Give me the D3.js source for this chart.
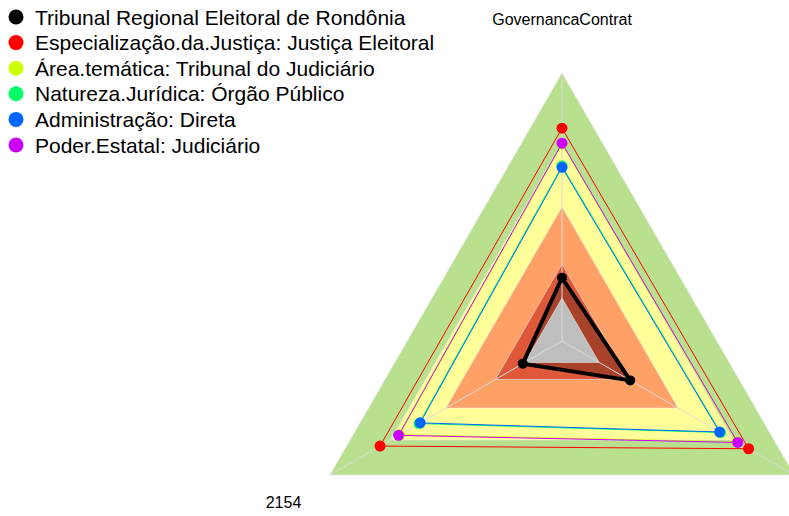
<!DOCTYPE html>
<html>
<head>
<meta charset="utf-8">
<script src="https://cdn.jsdelivr.net/npm/d3@7"></script>
<style>
  html, body { margin: 0; padding: 0; background: #fff; }
  svg { display: block; font-family: "Liberation Sans", Arial, sans-serif; }
</style>
</head>
<body>
<svg id="chart" width="789" height="516"></svg>
<script>
// Indicator axes (from the top, then bottom-left, then bottom-right)
const axes = ["GovernancaContrat", "2154", "2155"];

// Reference bands, as a share of the full scale (outer to inner)
const bandLevels = [1.0, 0.739, 0.5, 0.287, 0.16];
const bandColors = ["#b9e08e", "#ffff99", "#ffa066", "#e0583a", "#bebebe"];

// Series
const seriesNames = [
  "Tribunal Regional Eleitoral de Rondônia",
  "Especialização.da.Justiça: Justiça Eleitoral",
  "Área.temática: Tribunal do Judiciário",
  "Natureza.Jurídica: Órgão Público",
  "Administração: Direta",
  "Poder.Estatal: Judiciário"
];
const seriesColors = ["#000000", "#FF0000", "#CCFF00", "#00FF66", "#0066FF", "#CC00FF"];
const tribunal       = [0.236, 0.169, 0.294];
const especializacao = [0.794, 0.784, 0.804];
const areaTematica   = [0.735, 0.700, 0.752];
const natureza       = [0.653, 0.616, 0.683];
const administracao  = [0.648, 0.611, 0.679];
const poder          = [0.738, 0.704, 0.757];
const seriesValues = [tribunal, especializacao, areaTematica, natureza, administracao, poder];

const svg = d3.select("#chart");
const cx = 562, cy = 341, R = 268;

const r = d3.scaleLinear().domain([0, 1]).range([0, R]);
const angle = d3.scalePoint().domain(axes).range([0, -2 * Math.PI * (axes.length - 1) / axes.length]);
const g = svg.append("g").attr("transform", `translate(${cx},${cy})`);

const radial = d3.lineRadial()
  .angle((d, i) => angle(axes[i]))
  .radius(d => r(d))
  .curve(d3.curveLinearClosed);

const pt = (v, i) => {
  const a = angle(axes[i]);
  return [r(v) * Math.sin(a), -r(v) * Math.cos(a)];
};

// bands, largest first; the first series' area is shaded before the innermost band
bandLevels.forEach((lv, k) => {
  if (k === bandLevels.length - 1) {
    g.append("path")
      .attr("d", radial(tribunal))
      .attr("fill", "#000")
      .attr("fill-opacity", 0.25);
  }
  g.append("path")
    .attr("d", radial(axes.map(() => lv)))
    .attr("fill", bandColors[k])
    .attr("stroke", "#e6e6e6")
    .attr("stroke-width", 0.6);
});

// axis spokes
g.selectAll("line.spoke").data(axes).join("line")
  .attr("class", "spoke")
  .attr("x1", 0).attr("y1", 0)
  .attr("x2", (d, i) => pt(1, i)[0])
  .attr("y2", (d, i) => pt(1, i)[1])
  .attr("stroke", "#d8d8d8")
  .attr("stroke-width", 1);

// axis labels
g.selectAll("text.axis").data(axes).join("text")
  .attr("class", "axis")
  .attr("x", (d, i) => pt(1.2, i)[0])
  .attr("y", (d, i) => pt(1.2, i)[1] + 5.7)
  .attr("text-anchor", "middle")
  .attr("font-size", 16)
  .attr("fill", "#000")
  .text(d => d);

// series lines and points
seriesValues.forEach((vals, s) => {
  const sg = g.append("g");
  sg.append("path")
    .attr("d", radial(vals))
    .attr("fill", "none")
    .attr("stroke", seriesColors[s])
    .attr("stroke-width", s === 0 ? 4 : 1);
  sg.selectAll("circle").data(vals).join("circle")
    .attr("cx", (d, i) => pt(d, i)[0])
    .attr("cy", (d, i) => pt(d, i)[1])
    .attr("r", s === 0 ? 5 : 5.5)
    .attr("fill", seriesColors[s]);
});

// legend
const legend = svg.append("g");
const rowY = d3.scaleLinear().domain([0, 1]).range([17, 42.6]);
seriesNames.forEach((name, s) => {
  legend.append("circle")
    .attr("cx", 16).attr("cy", rowY(s)).attr("r", 7.5)
    .attr("fill", seriesColors[s]);
  legend.append("text")
    .attr("x", 35).attr("y", rowY(s) + 7.5)
    .attr("font-size", 21)
    .attr("fill", "#000")
    .text(name);
});
</script>
</body>
</html>
